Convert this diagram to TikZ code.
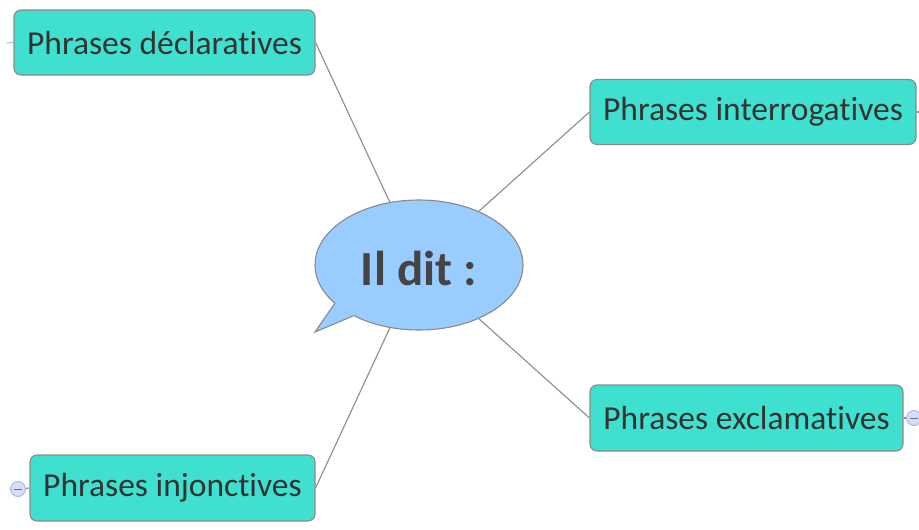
\documentclass[tikz,border=0pt]{standalone}
\usepackage{fontspec}
\setmainfont[Ligatures=NoCommon]{Carlito}
\usetikzlibrary{shapes.geometric}
\definecolor{boxfill}{HTML}{40E0D0}
\definecolor{boxline}{HTML}{8A8A8A}
\definecolor{bubfill}{HTML}{99CCFF}
\definecolor{txt}{HTML}{333333}
\definecolor{ctxt}{HTML}{444444}
\definecolor{linkc}{HTML}{8C8C8C}
\definecolor{knobfill}{HTML}{D4DEFA}
\definecolor{knobline}{HTML}{A6B6E6}
\tikzset{
  topic/.style={draw=boxline, line width=1.1pt, fill=boxfill, rounded corners=7pt,
    text=txt, font=\fontsize{33.5}{37}\selectfont, inner sep=0pt, align=center},
  link/.style={draw=linkc, line width=1.1pt},
  stub/.style={draw=knobline, line width=1pt},
  knob/.style={circle, draw=knobline, fill=knobfill, line width=0.9pt, minimum size=15pt, inner sep=0pt},
}
\begin{document}
\begin{tikzpicture}[x=1pt,y=-1pt]
\useasboundingbox (0,0) rectangle (919,530);
% topics
\node[topic, minimum width=301pt, minimum height=65pt] (decl) at (164.5,42.5) {Phrases déclaratives};
\node[topic, minimum width=326pt, minimum height=65pt] (inter) at (753,112) {Phrases interrogatives};
\node[topic, minimum width=313pt, minimum height=66pt] (excl) at (746.5,418) {Phrases exclamatives};
\node[topic, minimum width=285pt, minimum height=66pt] (inj) at (172.5,488) {Phrases injonctives};
% central bubble
\node[ellipse, draw=boxline, line width=1.1pt, fill=bubfill, minimum width=208pt, minimum height=130pt, inner sep=0pt] (bub) at (419,265) {};
\coordinate (ta) at (335,303);
\coordinate (tt) at (315,332);
\coordinate (tb) at (353,316);
\fill[bubfill] (ta) -- (tt) -- (tb) -- (356,310) -- (339,298) -- cycle;
\draw[draw=boxline, line width=1.1pt, line join=miter] (ta) -- (tt) -- (tb);
\node[text=ctxt, font=\bfseries\fontsize{49}{52}\selectfont] (lbl) at (419,268) {Il dit :};
% connectors
\draw[link] (decl.east) -- (bub);
\draw[link] (inter.west) -- (bub);
\draw[link] (excl.west) -- (bub);
\draw[link] (inj.east) -- (bub);
% stubs and knobs
\coordinate (s1) at (7,43);
\draw[stub] (s1) -- (decl.west);
\coordinate (s2) at (920,112);
\draw[link] (inter.east) -- (s2);
\node[knob] (k1) at (914,418) {};
\draw[link] (excl.east) -- (k1);
\draw[draw=txt!70, line width=0.8pt] ([xshift=-4pt]k1.center) -- ([xshift=4pt]k1.center);
\node[knob] (k2) at (18,489) {};
\draw[link] (k2) -- (inj.west);
\draw[draw=txt!70, line width=0.8pt] ([xshift=-4pt]k2.center) -- ([xshift=4pt]k2.center);
\end{tikzpicture}
\end{document}
